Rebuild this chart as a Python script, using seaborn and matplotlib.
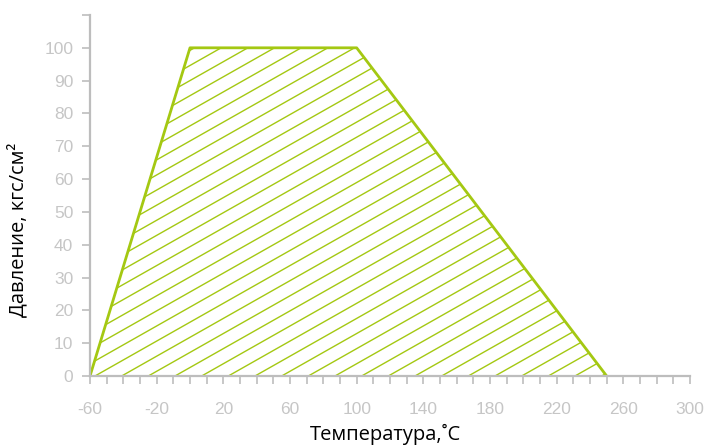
import numpy as np
import pandas as pd
import matplotlib
matplotlib.use("Agg")
import matplotlib.pyplot as plt
import seaborn as sns

# Data
temperature = [-60, 0, 100, 250]
pressure = [0, 100, 100, 0]
x_major_ticks = [-60, -20, 20, 60, 100, 140, 180, 220, 260, 300]
y_ticks = [0, 10, 20, 30, 40, 50, 60, 70, 80, 90, 100, 110]
y_tick_labels = ["0", "10", "20", "30", "40", "50", "60", "70", "80", "90", "100", ""]
x_label = "Температура,˚С"
y_label = "Давление, кгс/см²"

GREEN = "#a4c812"
GRAY = "#bdbdbd"
LABEL_GRAY = "#c6c6c6"

sns.set_style("white")
plt.rcParams["font.family"] = ["Liberation Sans", "DejaVu Sans"]
plt.rcParams["axes.unicode_minus"] = False

fig = plt.figure(figsize=(7.06, 4.46), dpi=100)
ax = fig.add_axes([90 / 706, 70 / 446, 600 / 706, (376 - 15) / 446])

df = pd.DataFrame({"t": temperature, "p": pressure})

# polygon region (invisible fill, used as clip path)
poly = ax.fill(df["t"], df["p"], facecolor="none", edgecolor="none")[0]

# hatch lines (shallow diagonal), clipped to region
slope = 0.2876
spacing = 16.0
for c in np.arange(-57 - spacing * 30, 260, spacing):
    xs = np.array([c, c + 110 / slope])
    ys = slope * (xs - c)
    ln, = ax.plot(xs, ys, color=GREEN, lw=1.0, solid_capstyle="butt")
    ln.set_clip_path(poly)

# outline
sns.lineplot(data=df, x="t", y="p", sort=False, estimator=None, ax=ax,
             color=GREEN, lw=2.0, legend=False)

ax.set_xlim(-60, 300)
ax.set_ylim(0, 110)
ax.set_xticks(x_major_ticks)
ax.set_xticks(np.arange(-60, 301, 10), minor=True)
ax.set_yticks(y_ticks)
ax.set_yticklabels(y_tick_labels)

for s in ["top", "right"]:
    ax.spines[s].set_visible(False)
for s in ["left", "bottom"]:
    ax.spines[s].set_color(GRAY)
    ax.spines[s].set_linewidth(1.6)

ax.tick_params(axis="x", which="both", direction="out", length=6, width=1.2,
               color=GRAY, labelcolor=LABEL_GRAY, labelsize=12.5, pad=13,
               bottom=True)
ax.tick_params(axis="y", which="both", direction="out", length=6, width=1.2,
               color=GRAY, labelcolor=LABEL_GRAY, labelsize=12.5, pad=6,
               left=True)

ax.set_xlabel(x_label, fontsize=14.5, color="black", family=["Open Sans", "DejaVu Sans"])
ax.set_ylabel(y_label, fontsize=14.5, color="black", family=["Open Sans", "DejaVu Sans"])
ax.xaxis.set_label_coords(385 / 600 - 90 / 600, -(424 - 376) / 361)
ax.yaxis.set_label_coords(-(90 - 28) / 600, (376 - 230) / 361)
ax.grid(False)

fig.savefig("out.png", dpi=100)
